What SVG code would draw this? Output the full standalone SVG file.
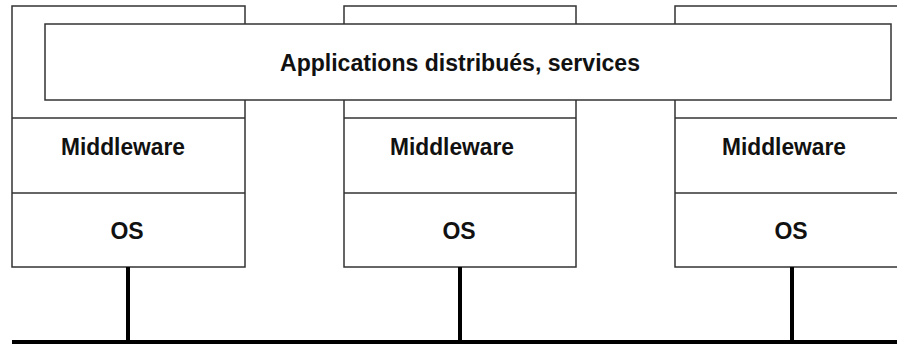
<svg xmlns="http://www.w3.org/2000/svg" width="897" height="344" viewBox="0 0 897 344">
<style>
.box{fill:#fff;stroke:#333;stroke-width:1.5}
.t{font-family:"Liberation Sans",Arial,sans-serif;font-weight:bold;font-size:23px;fill:#111;text-anchor:middle}
.wire{stroke:#000;stroke-width:4;fill:none}
</style>
<rect width="897" height="344" fill="#fff"/>
<g id="machine1">
<rect class="box" x="12" y="6" width="233" height="261"/>
<line class="box" x1="12" y1="118" x2="245" y2="118"/>
<line class="box" x1="12" y1="193" x2="245" y2="193"/>
<text class="t" x="123" y="155" textLength="124" lengthAdjust="spacingAndGlyphs">Middleware</text>
<text class="t" x="127" y="239">OS</text>
</g>
<g id="machine2">
<rect class="box" x="344" y="6" width="232" height="261"/>
<line class="box" x1="344" y1="118" x2="576" y2="118"/>
<line class="box" x1="344" y1="193" x2="576" y2="193"/>
<text class="t" x="452" y="155" textLength="124" lengthAdjust="spacingAndGlyphs">Middleware</text>
<text class="t" x="459" y="239">OS</text>
</g>
<g id="machine3">
<rect class="box" x="675" y="6" width="240" height="261"/>
<line class="box" x1="675" y1="118" x2="897" y2="118"/>
<line class="box" x1="675" y1="193" x2="897" y2="193"/>
<text class="t" x="784" y="155" textLength="124" lengthAdjust="spacingAndGlyphs">Middleware</text>
<text class="t" x="791" y="239">OS</text>
</g>
<g id="applications">
<rect class="box" x="45" y="24" width="846" height="76"/>
<text class="t" x="460" y="71" textLength="360" lengthAdjust="spacingAndGlyphs">Applications distribués, services</text>
</g>
<g id="connectors">
<line class="wire" x1="128" y1="267" x2="128" y2="343"/>
<line class="wire" x1="460" y1="267" x2="460" y2="343"/>
<line class="wire" x1="792" y1="267" x2="792" y2="343"/>
<line class="wire" x1="12" y1="342" x2="897" y2="342"/>
</g>
</svg>
